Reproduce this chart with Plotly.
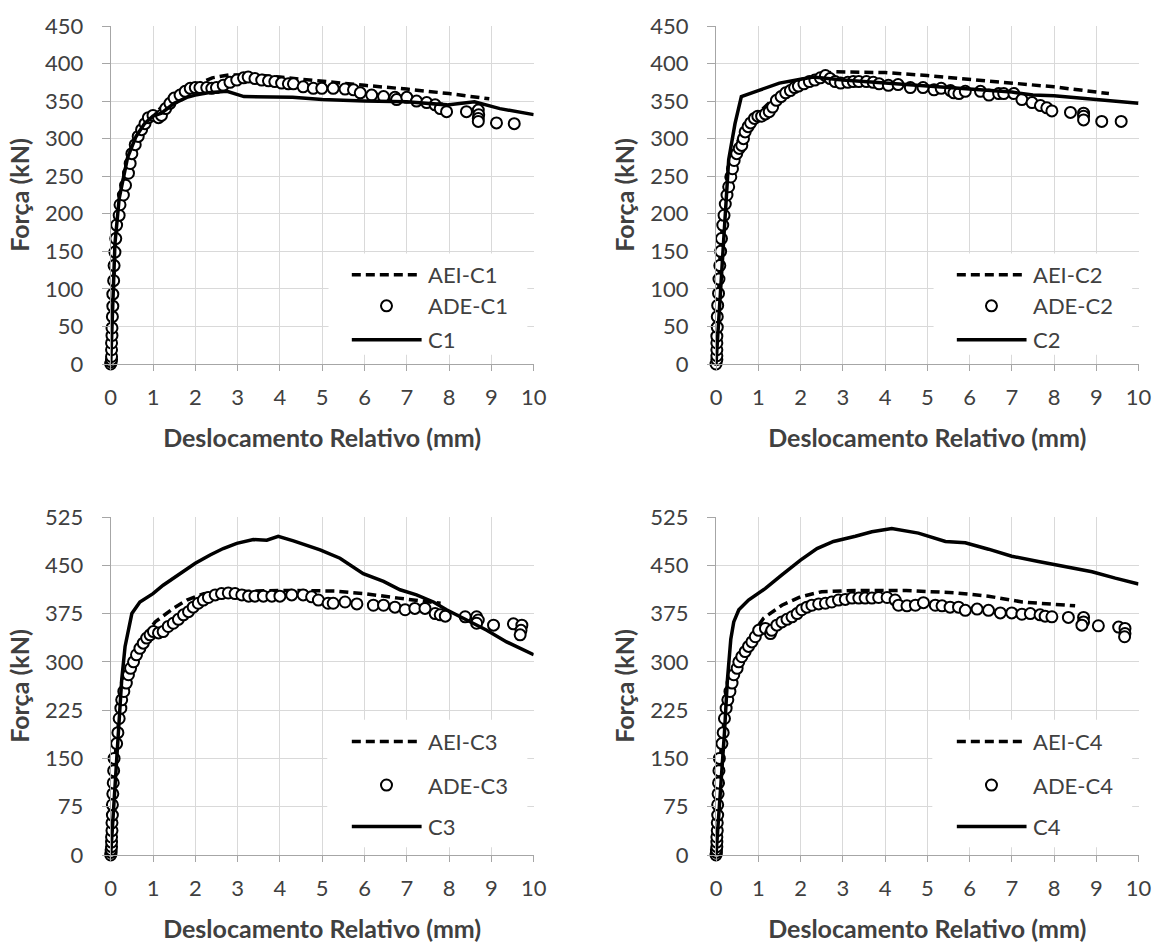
import plotly.graph_objects as go

# ---------------- data ----------------
# C1 panel
c1_ade_x = [0.0, 0.01, 0.02, 0.02, 0.02, 0.02, 0.03, 0.03, 0.04, 0.05, 0.05, 0.07, 0.08, 0.1, 0.12, 0.14, 0.2, 0.22, 0.3, 0.35,
            0.42, 0.46, 0.5, 0.58, 0.65, 0.73, 0.81, 0.89, 1.0, 1.13, 1.2, 1.3, 1.4, 1.5, 1.64, 1.76, 1.88, 2.0, 2.11, 2.27,
            2.39, 2.5, 2.66, 2.82, 2.98, 3.14, 3.25, 3.41, 3.57, 3.73, 3.88, 4.04, 4.2, 4.32, 4.55, 4.79, 4.99, 5.26, 5.54, 5.74,
            5.9, 6.17, 6.45, 6.72, 6.76, 7.0, 7.23, 7.47, 7.67, 7.79, 7.94, 8.41, 8.69, 8.7, 8.69, 8.69, 9.12, 9.54]
c1_ade_y = [0, 3, 6, 10, 19, 28, 38, 48, 63, 77, 93, 111, 131, 149, 167, 185, 198, 212, 225, 238,
            254, 267, 280, 292, 303, 312, 320, 328, 331, 328, 331, 340, 347, 354, 358, 363, 367, 368, 368, 368,
            367, 368, 371, 375, 378, 381, 382, 380, 378, 377, 376, 374, 373, 373, 369, 367, 367, 367, 366, 365,
            361, 358, 356, 355, 352, 355, 350, 348, 345, 340, 336, 336, 338, 332, 327, 323, 321, 320]
c1_aei_x = [0, 0.05, 0.1, 0.2, 0.4, 0.6, 0.8, 1.0, 1.3, 1.6, 2.0, 2.4, 2.8, 3.2, 3.6, 4.0, 5.0, 6.0, 7.0, 8.0, 8.95]
c1_aei_y = [0, 90, 150, 215, 275, 305, 322, 333, 345, 358, 371, 381, 385, 385, 384, 382, 376, 371, 366, 360, 353]
c1_exp_x = [0, 0.05, 0.1, 0.2, 0.4, 0.6, 0.8, 1.0, 1.2, 1.5, 1.8, 2.0, 2.3, 2.75, 3.15, 4.3, 5.0, 6.0, 7.0, 7.95, 8.6, 9.2, 10.0]
c1_exp_y = [0, 90, 160, 220, 275, 303, 320, 330, 334, 347, 355, 358, 361, 363, 356, 355, 352, 350, 349, 345, 349, 340, 332]

# C2 panel
c2_ade_x = [0.0, 0.02, 0.02, 0.02, 0.02, 0.02, 0.03, 0.03, 0.04, 0.06, 0.07, 0.09, 0.11, 0.13, 0.16, 0.19, 0.22, 0.26, 0.3, 0.35,
            0.39, 0.43, 0.49, 0.55, 0.61, 0.65, 0.69, 0.76, 0.82, 0.91, 0.99, 1.08, 1.17, 1.26, 1.34, 1.43, 1.54, 1.65, 1.76, 1.86,
            1.95, 2.08, 2.21, 2.34, 2.47, 2.59, 2.7, 2.82, 2.95, 3.12, 3.25, 3.38, 3.56, 3.72, 3.86, 4.08, 4.31, 4.6, 4.9, 5.16,
            5.33, 5.55, 5.63, 5.75, 5.9, 6.26, 6.46, 6.69, 6.81, 7.05, 7.24, 7.48, 7.68, 7.83, 7.95, 8.39, 8.7, 8.7, 8.7, 9.13, 9.59]
c2_ade_y = [0, 6, 11, 19, 28, 37, 49, 63, 78, 94, 113, 131, 150, 167, 185, 198, 213, 225, 236, 249,
            260, 271, 280, 287, 291, 300, 309, 316, 321, 327, 330, 330, 333, 336, 342, 351, 356, 361, 364, 368,
            370, 373, 376, 378, 381, 384, 380, 376, 374, 375, 376, 376, 376, 375, 373, 371, 372, 368, 368, 365,
            367, 364, 361, 360, 363, 363, 358, 360, 360, 360, 352, 348, 344, 341, 337, 335, 334, 330, 325, 323, 323]
c2_aei_x = [0, 0.05, 0.1, 0.2, 0.4, 0.6, 0.8, 1.0, 1.3, 1.6, 2.0, 2.4, 2.8, 3.5, 4.0, 5.0, 6.0, 7.0, 8.0, 9.3]
c2_aei_y = [0, 90, 150, 215, 280, 308, 323, 334, 350, 363, 374, 384, 389, 389, 388, 384, 379, 375, 369, 360]
c2_exp_x = [0, 0.1, 0.2, 0.3, 0.45, 0.6, 1.0, 1.5, 2.0, 2.3, 3.0, 4.0, 5.0, 6.0, 7.0, 7.5, 8.0, 9.0, 10.0]
c2_exp_y = [0, 90, 180, 272, 320, 356, 364, 374, 379, 382, 378, 374, 370, 366, 362, 358, 357, 352, 347]

# C3 panel
c3_ade_x = [0.0, 0.01, 0.01, 0.02, 0.02, 0.02, 0.03, 0.03, 0.04, 0.04, 0.05, 0.06, 0.07, 0.08, 0.14, 0.17, 0.2, 0.24, 0.26, 0.31,
            0.37, 0.42, 0.47, 0.54, 0.61, 0.69, 0.77, 0.85, 0.93, 1.01, 1.13, 1.24, 1.36, 1.48, 1.6, 1.72, 1.84, 1.95, 2.07, 2.19,
            2.31, 2.47, 2.62, 2.78, 2.94, 3.1, 3.26, 3.41, 3.61, 3.81, 4.0, 4.28, 4.55, 4.75, 4.91, 5.14, 5.26, 5.54, 5.82, 6.21,
            6.45, 6.72, 6.96, 7.19, 7.43, 7.67, 7.79, 7.91, 8.38, 8.65, 8.69, 8.65, 9.05, 9.52, 9.72, 9.7, 9.68]
c3_ade_y = [0, 4, 8, 13, 20, 28, 38, 50, 62, 78, 95, 112, 131, 150, 173, 190, 212, 228, 241, 254,
            267, 280, 290, 300, 311, 321, 329, 337, 342, 347, 345, 347, 355, 360, 366, 373, 378, 385, 391, 396,
            400, 404, 406, 407, 406, 404, 402, 402, 402, 402, 402, 404, 404, 401, 396, 391, 391, 393, 390, 388,
            388, 385, 381, 383, 383, 375, 373, 371, 370, 370, 365, 360, 357, 359, 357, 349, 342]
c3_aei_x = [0, 0.05, 0.1, 0.2, 0.4, 0.6, 0.8, 1.05, 1.5, 1.8, 2.2, 2.9, 4.0, 5.3, 6.0, 6.8, 7.8]
c3_aei_y = [0, 90, 150, 215, 285, 318, 340, 362, 384, 396, 406, 409, 411, 410, 406, 399, 391]
c3_exp_x = [0, 0.1, 0.2, 0.26, 0.34, 0.5, 0.69, 1.0, 1.24, 1.64, 2.0, 2.35, 2.66, 2.98, 3.37, 3.69, 3.96, 4.32, 4.95, 5.42,
            5.97, 6.45, 6.84, 7.23, 7.63, 7.94, 8.41, 8.89, 9.36, 10.0]
c3_exp_y = [0, 100, 200, 272, 324, 375, 393, 406, 419, 437, 453, 466, 476, 484, 490, 489, 495, 488, 474, 461,
            437, 425, 412, 404, 393, 381, 365, 349, 331, 311]

# C4 panel
c4_ade_x = [0.0, 0.01, 0.01, 0.02, 0.02, 0.02, 0.03, 0.03, 0.04, 0.04, 0.05, 0.06, 0.07, 0.08, 0.14, 0.17, 0.2, 0.24, 0.28, 0.33,
            0.38, 0.42, 0.5, 0.54, 0.61, 0.69, 0.77, 0.85, 0.93, 1.01, 1.17, 1.29, 1.32, 1.44, 1.56, 1.68, 1.8, 1.92, 2.03, 2.15,
            2.27, 2.43, 2.59, 2.74, 2.9, 3.06, 3.22, 3.38, 3.53, 3.69, 3.85, 4.05, 4.24, 4.32, 4.52, 4.72, 4.91, 5.19, 5.35, 5.54,
            5.74, 5.9, 6.18, 6.45, 6.73, 7.0, 7.24, 7.44, 7.67, 7.79, 7.95, 8.34, 8.7, 8.7, 8.66, 9.05, 9.53, 9.68, 9.68, 9.67]
c4_ade_y = [0, 4, 8, 13, 20, 28, 38, 50, 62, 78, 95, 112, 131, 150, 173, 190, 212, 228, 241, 254,
            267, 280, 290, 300, 308, 316, 324, 331, 339, 349, 352, 344, 349, 357, 362, 366, 370, 375, 381, 385,
            388, 390, 391, 393, 396, 397, 399, 399, 399, 399, 400, 400, 396, 388, 387, 388, 392, 388, 387, 385,
            385, 380, 382, 380, 376, 376, 374, 375, 373, 371, 370, 369, 369, 362, 357, 356, 354, 352, 344, 339]
c4_aei_x = [0, 0.05, 0.1, 0.2, 0.4, 0.6, 0.8, 1.13, 1.56, 2.0, 2.5, 3.3, 4.5, 5.7, 6.45, 7.25, 8.5]
c4_aei_y = [0, 90, 150, 215, 285, 316, 338, 368, 388, 401, 409, 411, 411, 407, 402, 393, 387]
c4_exp_x = [0, 0.1, 0.2, 0.27, 0.35, 0.42, 0.54, 0.77, 1.17, 1.56, 2.0, 2.39, 2.78, 3.3, 3.69, 4.16, 4.79, 5.43, 5.9, 6.45,
            7.0, 7.63, 8.26, 8.9, 9.45, 10.0]
c4_exp_y = [0, 90, 190, 272, 335, 362, 381, 396, 414, 435, 458, 476, 487, 495, 502, 507, 500, 487, 485, 475,
            464, 456, 448, 440, 430, 421]

panel_names = ["C1", "C2", "C3", "C4"]
x_ticks = [0, 1, 2, 3, 4, 5, 6, 7, 8, 9, 10]
y_ticks_top = [0, 50, 100, 150, 200, 250, 300, 350, 400, 450]
y_ticks_bottom = [0, 75, 150, 225, 300, 375, 450, 525]
x_title = "Deslocamento Relativo (mm)"
y_title = "Força (kN)"

panels = [
    (c1_aei_x, c1_aei_y, c1_ade_x, c1_ade_y, c1_exp_x, c1_exp_y),
    (c2_aei_x, c2_aei_y, c2_ade_x, c2_ade_y, c2_exp_x, c2_exp_y),
    (c3_aei_x, c3_aei_y, c3_ade_x, c3_ade_y, c3_exp_x, c3_exp_y),
    (c4_aei_x, c4_aei_y, c4_ade_x, c4_ade_y, c4_exp_x, c4_exp_y),
]

# ---------------- figure ----------------
W, H = 1155, 943
FONT = "Lato"
TXT = "#404040"
GRID = "#d9d9d9"
AXC = "#a6a6a6"
MSIZE = 11

x_domains = [[110.7 / W, 533.7 / W], [716 / W, 1138.5 / W]]
y_domains = [[1 - 364 / H, 1 - 26 / H], [1 - 855 / H, 1 - 517 / H]]

fig = go.Figure()
layout = dict(
    width=W, height=H, margin=dict(l=0, r=0, t=0, b=0),
    paper_bgcolor="white", plot_bgcolor="white", showlegend=False,
    font=dict(family=FONT, size=22, color=TXT),
)
shapes = []
annotations = []

for i, (ax_, ay_, dx_, dy_, ex_, ey_) in enumerate(panels):
    n = i + 1
    row, col = divmod(i, 2)
    xa = "x" if n == 1 else f"x{n}"
    ya = "y" if n == 1 else f"y{n}"
    name = panel_names[i]

    fig.add_trace(go.Scatter(x=ax_, y=ay_, mode="lines", name=f"AEI-{name}",
                             line=dict(color="black", width=3.5, dash="9px,5px"),
                             xaxis=xa, yaxis=ya))
    fig.add_trace(go.Scatter(x=dx_, y=dy_, mode="markers", name=f"ADE-{name}",
                             marker=dict(symbol="circle", size=MSIZE, color="white",
                                         line=dict(color="black", width=2)),
                             cliponaxis=False, xaxis=xa, yaxis=ya))
    fig.add_trace(go.Scatter(x=ex_, y=ey_, mode="lines", name=name,
                             line=dict(color="black", width=3.5),
                             xaxis=xa, yaxis=ya))

    yt = y_ticks_top if row == 0 else y_ticks_bottom
    xkey = "xaxis" if n == 1 else f"xaxis{n}"
    ykey = "yaxis" if n == 1 else f"yaxis{n}"
    layout[xkey] = dict(
        domain=x_domains[col], anchor=ya, range=[0, 10], tickvals=x_ticks,
        showgrid=True, gridcolor=GRID, gridwidth=1, zeroline=False,
        showline=True, linecolor=AXC, linewidth=1,
        ticks="outside", ticklen=6, tickcolor=AXC, ticklabelstandoff=8,
        tickfont=dict(family=FONT, size=22, color=TXT),
        title=dict(text=x_title, standoff=20,
                   font=dict(family=FONT, size=25, color=TXT, weight="bold")),
        automargin=False, fixedrange=True,
    )
    layout[ykey] = dict(
        domain=y_domains[row], anchor=xa, range=[0, yt[-1]], tickvals=yt,
        showgrid=True, gridcolor=GRID, gridwidth=1, zeroline=False,
        showline=True, linecolor=AXC, linewidth=1,
        ticks="outside", ticklen=8, tickcolor=AXC, ticklabelstandoff=14,
        tickfont=dict(family=FONT, size=22, color=TXT),
        title=dict(text=y_title, standoff=8,
                   font=dict(family=FONT, size=25, color=TXT, weight="bold")),
        automargin=False, fixedrange=True,
    )

    # in-plot legend (white box + samples + labels)
    xr = f"{xa} domain"
    yr = f"{ya} domain"
    if row == 0:
        box = (0.515, 0.027, 0.985, 0.327)
        rows_y = [0.264, 0.172, 0.072]
    else:
        box = (0.512, 0.023, 0.985, 0.40)
        rows_y = [0.336, 0.207, 0.084]
    r = MSIZE / 2
    shapes.append(dict(type="rect", xref=xr, yref=yr, x0=box[0], y0=box[1], x1=box[2], y1=box[3],
                       fillcolor="white", line=dict(width=0), layer="above"))
    shapes.append(dict(type="line", xref=xr, yref=yr, x0=0.57, x1=0.735, y0=rows_y[0], y1=rows_y[0],
                       line=dict(color="black", width=3.5, dash="9px,5px"), layer="above"))
    shapes.append(dict(type="circle", xref=xr, yref=yr, xsizemode="pixel", ysizemode="pixel",
                       xanchor=0.652, yanchor=rows_y[1], x0=-r, x1=r, y0=-r, y1=r,
                       fillcolor="white", line=dict(color="black", width=2), layer="above"))
    shapes.append(dict(type="line", xref=xr, yref=yr, x0=0.57, x1=0.735, y0=rows_y[2], y1=rows_y[2],
                       line=dict(color="black", width=3.5), layer="above"))
    for label, yy in zip([f"AEI-{name}", f"ADE-{name}", name], rows_y):
        annotations.append(dict(text=label, xref=xr, yref=yr, x=0.745, y=yy, xanchor="left",
                                yanchor="middle", showarrow=False,
                                font=dict(family=FONT, size=22, color=TXT)))

layout["shapes"] = shapes
layout["annotations"] = annotations
fig.update_layout(**layout)
fig.write_html("out.html", config={"displayModeBar": False},
               post_script="document.body.style.margin='0';document.body.style.overflow='hidden';")
